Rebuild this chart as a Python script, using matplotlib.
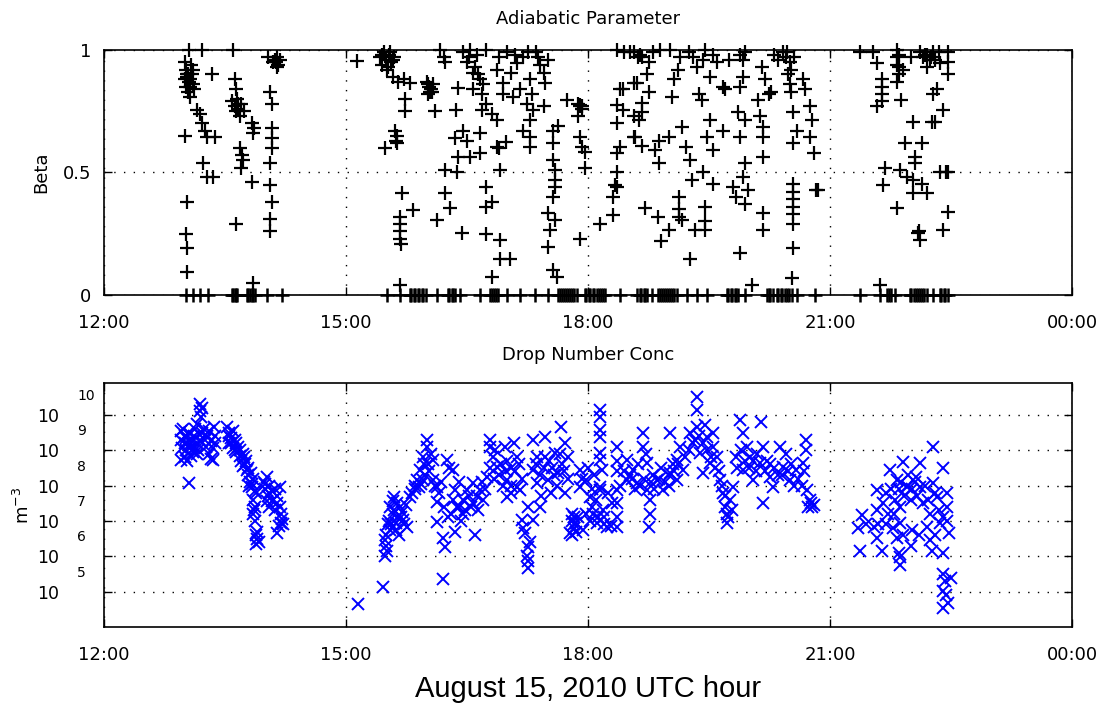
import numpy as np
import matplotlib.pyplot as plt

# ---- data ----
# adiabatic parameter (beta) per flight leg: (UTC hour, beta)
beta_leg1 = [
    (13.00, 0.95), (13.02, 0.92), (13.03, 0.89), (13.05, 0.87), (13.01, 0.85), (13.04, 0.83),
    (13.06, 0.81), (13.03, 0.90), (13.08, 0.94), (13.06, 0.88), (13.10, 0.86), (13.05, 1.00),
    (13.21, 1.00), (13.10, 0.92), (13.12, 0.84), (13.34, 0.90), (13.15, 0.755), (13.19, 0.74),
    (13.22, 0.70), (13.25, 0.67), (13.00, 0.65), (13.28, 0.645), (13.38, 0.645), (13.23, 0.54),
    (13.28, 0.48), (13.35, 0.48), (13.03, 0.38), (13.02, 0.25), (13.03, 0.19), (13.03, 0.095),
    (13.60, 1.00), (13.62, 0.88), (13.64, 0.84), (13.65, 0.80), (13.59, 0.79), (13.62, 0.77),
    (13.66, 0.76), (13.70, 0.78), (13.74, 0.75), (13.68, 0.73), (13.83, 0.70), (13.86, 0.68),
    (13.85, 0.66), (13.69, 0.60), (13.71, 0.57), (13.72, 0.55), (13.70, 0.52), (13.84, 0.46),
    (13.63, 0.29), (13.85, 0.05), (14.03, 0.97), (14.10, 0.95), (14.16, 0.94), (14.18, 0.96),
    (14.14, 0.93), (14.12, 0.96), (14.06, 0.83), (14.08, 0.78), (14.08, 0.68), (14.08, 0.64),
    (14.08, 0.60), (14.06, 0.54), (14.06, 0.45), (14.08, 0.38), (14.06, 0.31), (14.06, 0.26),
    (13.04, 0.90), (13.07, 0.85), (13.09, 0.90), (13.00, 0.88), (13.66, 0.78), (13.64, 0.75),
    (14.15, 0.97), (14.13, 0.95),
]
beta_leg2 = [
    (15.14, 0.955), (15.42, 0.97), (15.47, 0.99), (15.50, 0.96), (15.53, 0.98), (15.56, 0.95),
    (15.60, 0.97), (15.52, 0.93), (15.45, 0.94), (15.51, 0.92), (15.58, 0.89), (15.65, 0.87),
    (15.72, 0.88), (15.79, 0.865), (15.73, 0.80), (15.73, 0.75), (15.61, 0.67), (15.63, 0.65),
    (15.62, 0.63), (15.63, 0.62), (15.48, 0.60), (16.00, 0.87), (16.03, 0.85), (16.06, 0.83),
    (16.02, 0.82), (16.08, 0.86), (16.05, 0.84), (16.10, 0.75), (16.17, 1.00), (16.21, 0.97),
    (16.23, 0.95), (16.39, 0.845), (16.36, 0.755), (16.54, 1.00), (16.73, 1.00), (16.50, 0.95),
    (16.57, 0.905), (16.66, 0.88), (16.57, 0.84), (16.69, 0.82), (16.74, 0.78), (16.69, 0.755),
    (16.87, 0.92), (16.95, 0.865), (17.04, 0.905), (17.12, 0.945), (17.20, 0.97), (16.95, 0.82),
    (17.07, 0.81), (17.16, 0.84), (17.28, 0.88), (17.31, 0.82), (17.32, 0.755), (17.24, 0.78),
    (17.45, 0.905), (17.50, 0.96), (17.47, 0.865), (17.45, 0.77), (17.28, 0.715), (16.87, 0.715),
    (16.81, 0.74), (16.45, 0.99), (16.62, 0.98), (16.90, 0.97), (17.00, 0.99), (17.10, 0.98),
    (17.25, 0.99), (16.45, 0.67), (16.35, 0.64), (16.50, 0.63), (16.66, 0.66), (16.39, 0.565),
    (16.54, 0.565), (16.66, 0.58), (16.87, 0.605), (16.98, 0.625), (16.90, 0.60), (16.23, 0.51),
    (16.37, 0.50), (16.91, 0.51), (16.73, 0.44), (16.81, 0.38), (16.73, 0.36), (16.23, 0.415),
    (16.29, 0.355), (16.13, 0.305), (15.69, 0.415), (15.83, 0.345), (15.67, 0.32), (15.67, 0.29),
    (15.67, 0.26), (15.67, 0.23), (15.68, 0.21), (16.44, 0.255), (16.73, 0.25), (16.91, 0.225),
    (16.91, 0.145), (17.03, 0.145), (16.81, 0.075), (17.20, 0.67), (17.28, 0.645), (17.28, 0.605),
    (17.57, 0.67), (17.63, 0.69), (17.57, 0.62), (17.57, 0.55), (17.59, 0.51), (17.59, 0.47),
    (17.59, 0.44), (17.57, 0.40), (17.50, 0.335), (17.59, 0.305), (17.53, 0.265), (17.50, 0.195),
    (17.57, 0.10), (17.62, 0.075), (17.74, 0.795), (17.90, 0.775), (17.88, 0.78), (17.92, 0.77),
    (17.87, 0.73), (17.90, 0.645), (17.93, 0.605), (17.96, 0.585), (17.96, 0.52), (17.90, 0.23),
    (15.67, 0.04), (15.45, 0.98), (15.55, 0.99), (15.58, 0.96), (16.02, 0.86), (16.04, 0.83),
    (16.52, 0.97), (16.60, 0.93), (16.64, 0.90), (16.70, 0.86), (17.35, 0.99), (17.38, 0.97),
    (17.40, 0.94), (17.90, 0.77), (17.92, 0.76),
]
beta_leg3 = [
    (18.15, 0.29), (18.31, 0.325), (18.36, 1.00), (18.52, 0.99), (18.40, 0.84), (18.57, 0.865),
    (18.36, 0.775), (18.43, 0.755), (18.36, 0.70), (18.57, 0.73), (18.57, 0.645), (18.36, 0.58),
    (18.40, 0.605), (18.36, 0.50), (18.36, 0.44), (18.31, 0.40), (18.57, 0.99), (18.64, 0.98),
    (18.67, 0.97), (18.89, 1.00), (19.02, 1.00), (19.14, 0.97), (19.45, 1.00), (19.89, 0.98),
    (19.95, 0.99), (19.92, 0.96), (20.47, 0.99), (20.50, 0.95), (20.52, 0.92), (20.48, 0.90),
    (20.55, 0.97), (19.11, 0.92), (19.06, 0.88), (19.04, 0.81), (19.35, 0.93), (19.38, 0.82),
    (19.51, 0.89), (19.67, 0.85), (19.70, 0.84), (19.41, 0.795), (19.88, 0.85), (19.92, 0.89),
    (20.16, 0.93), (20.19, 0.88), (20.24, 0.82), (20.27, 0.83), (20.11, 0.795), (20.13, 0.73),
    (18.73, 0.90), (18.61, 0.865), (18.76, 0.83), (18.67, 0.785), (18.43, 0.84), (18.67, 0.745),
    (18.63, 0.715), (18.58, 0.645), (18.67, 0.61), (18.83, 0.59), (18.88, 0.54), (19.00, 0.645),
    (18.88, 0.63), (19.17, 0.685), (19.22, 0.605), (19.26, 0.55), (19.29, 0.47), (19.48, 0.645),
    (19.51, 0.715), (19.55, 0.59), (19.67, 0.67), (19.55, 0.455), (19.42, 0.50), (19.86, 0.745),
    (19.95, 0.715), (19.88, 0.645), (20.17, 0.685), (20.17, 0.645), (20.17, 0.565), (19.95, 0.54),
    (19.92, 0.48), (19.80, 0.44), (19.98, 0.43), (19.83, 0.40), (19.95, 0.37), (20.54, 0.745),
    (20.75, 0.77), (20.78, 0.715), (20.59, 0.67), (20.75, 0.645), (20.54, 0.62), (20.80, 0.58),
    (20.69, 0.84), (20.67, 0.88), (20.54, 0.455), (20.54, 0.42), (20.54, 0.39), (20.54, 0.36),
    (20.54, 0.33), (20.54, 0.29), (20.82, 0.43), (20.85, 0.43), (20.54, 0.19), (20.53, 0.07),
    (18.71, 0.355), (18.87, 0.32), (19.00, 0.265), (18.90, 0.22), (19.13, 0.40), (19.13, 0.35),
    (19.13, 0.32), (19.16, 0.305), (19.32, 0.265), (19.45, 0.36), (19.45, 0.30), (19.45, 0.265),
    (19.26, 0.145), (19.88, 0.17), (20.17, 0.335), (20.17, 0.265), (20.03, 0.04), (18.33, 0.45),
    (18.45, 0.99), (18.62, 0.97), (18.75, 0.95), (18.80, 0.99), (19.25, 0.99), (19.30, 0.97),
    (19.42, 0.96), (19.55, 0.98), (19.60, 0.95), (19.75, 0.96), (20.30, 0.98), (20.35, 0.96),
    (20.42, 0.99), (20.45, 0.97), (20.50, 0.86), (20.52, 0.83),
]
beta_leg4 = [
    (21.37, 0.99), (21.53, 0.99), (21.58, 0.945), (21.64, 0.88), (21.64, 0.85), (21.64, 0.82),
    (21.64, 0.79), (21.58, 0.77), (21.83, 1.00), (21.83, 0.97), (21.83, 0.94), (21.85, 0.90),
    (21.83, 0.87), (21.90, 0.92), (21.88, 0.795), (22.12, 0.99), (22.15, 0.97), (22.18, 0.98),
    (22.24, 0.96), (22.28, 0.99), (22.36, 0.945), (22.46, 0.99), (22.46, 0.95), (22.46, 0.90),
    (22.33, 0.84), (22.28, 0.82), (22.40, 0.755), (22.03, 0.705), (22.27, 0.705), (22.30, 0.705),
    (21.93, 0.62), (22.14, 0.62), (22.05, 0.565), (22.05, 0.54), (21.68, 0.52), (21.87, 0.51),
    (21.95, 0.48), (22.03, 0.47), (21.66, 0.45), (22.14, 0.455), (22.03, 0.415), (22.20, 0.415),
    (22.36, 0.50), (22.46, 0.50), (22.44, 0.50), (21.83, 0.355), (22.46, 0.34), (22.40, 0.265),
    (22.09, 0.255), (22.12, 0.225), (22.10, 0.26), (22.00, 0.97), (22.20, 0.93), (21.62, 0.04),
    (21.85, 0.98), (21.86, 0.93), (22.20, 0.98), (22.25, 0.97), (22.30, 0.96), (22.35, 0.99),
]
# times where beta was 0
beta_zero_hours = [
    13.02, 13.10, 13.19, 13.29, 13.59, 13.60, 13.62, 13.63, 13.65, 13.77, 13.79, 13.81, 13.83,
    13.85, 13.87, 14.02, 14.21,
    15.51, 15.67, 15.79, 15.81, 15.84, 15.86, 15.89, 15.91, 15.94, 15.96, 15.99, 16.13, 16.26,
    16.28, 16.31, 16.33, 16.35, 16.41, 16.66, 16.79, 16.81, 16.83, 16.86, 16.88, 17.00, 17.16,
    17.34, 17.50, 17.63, 17.65, 17.68, 17.70, 17.73, 17.75, 17.78, 17.80, 17.83, 17.86, 17.96,
    17.98, 18.01, 18.03, 18.06, 18.08, 18.11, 18.13, 18.16, 18.18, 18.21, 18.40, 18.61, 18.64,
    18.66, 18.69, 18.71, 18.73, 18.79, 18.87, 18.89, 18.92, 18.94, 18.97, 18.99, 19.02, 19.04,
    19.07, 19.10, 19.23, 19.35, 19.47, 19.72, 19.74, 19.77, 19.79, 19.82, 19.84, 19.86, 19.95,
    20.22, 20.24, 20.26, 20.29, 20.34, 20.36, 20.39, 20.41, 20.44, 20.47, 20.49, 20.53, 20.59,
    20.81, 21.37, 21.62, 21.71, 21.73, 21.76, 21.81, 21.99, 22.01, 22.04, 22.06, 22.09, 22.11,
    22.14, 22.17, 22.20, 22.28, 22.36, 22.38, 22.41, 22.43, 22.46,
]

# drop number concentration per leg: (UTC hour, log10 of m^-3)
conc_leg1 = [
    (12.98, 9.6), (13.00, 9.4), (13.00, 9.2), (13.02, 9.0), (13.00, 8.8), (13.03, 8.7),
    (13.05, 9.5), (13.07, 9.3), (13.08, 9.1), (13.10, 8.95), (13.12, 9.4), (13.13, 9.6),
    (13.15, 9.2), (13.17, 9.0), (13.15, 9.75), (13.19, 10.3), (13.19, 10.1), (13.20, 9.95),
    (13.22, 10.2), (13.22, 9.5), (13.25, 9.3), (13.27, 9.1), (13.30, 8.9), (13.32, 8.75),
    (13.35, 8.72), (13.35, 9.05), (13.37, 9.4), (13.36, 9.66), (13.38, 9.2), (13.05, 8.07),
    (12.95, 9.55), (12.95, 9.3), (12.97, 9.05), (12.96, 8.72),
    (13.05, 9.15), (13.10, 9.25), (13.12, 9.05), (13.08, 8.85), (13.15, 8.9), (13.18, 9.45),
    (13.20, 9.25), (13.24, 9.6), (13.28, 9.4), (13.30, 9.55), (13.33, 9.25), (13.02, 9.35),
    (13.52, 9.66), (13.55, 9.5), (13.58, 9.35), (13.60, 9.55), (13.62, 9.3), (13.55, 9.2),
    (13.60, 9.05), (13.63, 8.95), (13.66, 9.1), (13.68, 8.85), (13.70, 8.7), (13.72, 8.9),
    (13.75, 8.6), (13.74, 8.8), (13.77, 8.45), (13.79, 8.3), (13.81, 8.1), (13.83, 7.95),
    (13.85, 8.2), (13.87, 7.85), (13.80, 8.0), (13.85, 7.6), (13.87, 7.4), (13.85, 7.2),
    (13.87, 7.0), (13.90, 6.7), (13.90, 6.5), (13.88, 6.35), (13.92, 6.4), (13.62, 9.0),
    (13.72, 8.55), (13.55, 9.4), (13.58, 9.2), (13.64, 9.2), (13.68, 9.0), (13.76, 8.7),
    (13.79, 8.5), (13.82, 8.35), (13.84, 8.05), (13.88, 7.8), (13.86, 7.3), (13.89, 6.6),
    (13.98, 8.1), (14.00, 7.9), (14.02, 8.24), (14.05, 8.0), (14.03, 7.7), (14.08, 7.85),
    (14.10, 7.6), (14.05, 7.4), (14.12, 7.3), (14.15, 7.7), (14.18, 7.95), (14.15, 7.5),
    (14.20, 7.2), (14.21, 7.05), (14.19, 6.95), (14.15, 6.65), (14.17, 6.85), (14.00, 8.05),
    (14.05, 7.8), (14.08, 7.55), (14.12, 7.9), (14.02, 7.55), (14.18, 7.4), (14.22, 6.9),
]
conc_leg2 = [
    (15.15, 4.66), (15.46, 5.14), (16.20, 5.37),
    (15.51, 6.16), (15.48, 6.45), (15.48, 6.0), (15.55, 6.73), (15.58, 7.2), (15.67, 7.39),
    (15.71, 7.02), (15.75, 6.82), (15.60, 7.67), (15.79, 7.67), (15.52, 6.9), (15.62, 6.95),
    (15.65, 7.1), (15.70, 7.25), (15.55, 7.4), (15.66, 6.6), (15.50, 6.3), (15.58, 7.55),
    (15.50, 6.6), (15.53, 7.0), (15.56, 6.9), (15.60, 7.3), (15.63, 7.5), (15.68, 7.1),
    (15.72, 6.9), (15.62, 6.75), (15.74, 7.45), (15.82, 7.8), (15.86, 7.9), (15.93, 8.05),
    (15.88, 8.15), (15.95, 8.15), (16.00, 9.1), (16.00, 9.29), (15.95, 8.8), (16.08, 8.72),
    (16.08, 8.15), (16.13, 7.95), (16.13, 7.53), (16.13, 6.96), (16.20, 6.53), (16.23, 6.25),
    (15.90, 7.95), (15.85, 8.0), (15.98, 8.3), (16.02, 8.6), (15.92, 8.45), (16.05, 8.9),
    (15.97, 8.6), (16.03, 8.4), (16.10, 8.0), (16.15, 7.8), (16.18, 8.1), (16.22, 7.4),
    (16.25, 8.72), (16.33, 8.44), (16.35, 7.87), (16.38, 7.39), (16.45, 7.2), (16.35, 6.68),
    (16.60, 6.59), (16.50, 7.87), (16.57, 8.07), (16.66, 7.87), (16.70, 7.58), (16.28, 8.5),
    (16.40, 8.1), (16.45, 7.6), (16.30, 7.2), (16.55, 7.4), (16.62, 7.7), (16.42, 7.0),
    (16.26, 7.1), (16.32, 7.6), (16.40, 7.4), (16.48, 7.3), (16.52, 7.7), (16.58, 7.5),
    (16.64, 7.3), (16.68, 8.1), (16.72, 7.9),
    (16.75, 8.24), (16.79, 9.1), (16.79, 9.29), (16.87, 8.52), (16.82, 8.8), (16.97, 9.1),
    (17.00, 8.15), (17.00, 7.67), (17.08, 9.2), (17.12, 8.8), (17.12, 7.95), (17.16, 7.87),
    (16.90, 8.3), (16.95, 8.0), (17.05, 8.5), (16.85, 9.0), (17.00, 8.7), (17.18, 8.2),
    (16.78, 8.5), (16.84, 8.2), (16.92, 8.6), (16.98, 8.4), (17.05, 8.0), (17.10, 8.4),
    (17.15, 8.6), (17.04, 7.8),
    (17.18, 7.02), (17.22, 6.65), (17.26, 6.25), (17.26, 5.88), (17.26, 5.68), (17.32, 7.02),
    (17.26, 7.39), (17.20, 6.8), (17.28, 6.4), (17.24, 6.0),
    (17.32, 9.29), (17.32, 8.44), (17.37, 8.8), (17.37, 8.07), (17.40, 7.39), (17.47, 9.38),
    (17.47, 8.8), (17.50, 8.15), (17.54, 7.78), (17.59, 8.92), (17.66, 9.66), (17.71, 9.2),
    (17.63, 8.35), (17.71, 7.78), (17.75, 8.8), (17.42, 7.7), (17.55, 8.5), (17.68, 8.6),
    (17.35, 8.6), (17.40, 8.3), (17.45, 8.5), (17.52, 8.7), (17.58, 8.3), (17.62, 8.0),
    (17.65, 8.9), (17.70, 8.4), (17.75, 8.2),
    (17.80, 7.2), (17.80, 7.0), (17.82, 6.8), (17.80, 6.6), (17.85, 6.7), (17.85, 6.95),
    (17.78, 6.65), (17.88, 7.1), (17.90, 8.44), (17.90, 7.95), (17.92, 8.2), (17.82, 6.9),
    (17.83, 7.1),
]
conc_leg3 = [
    (17.98, 7.2), (18.11, 6.93), (18.24, 6.82), (18.36, 6.82), (17.98, 8.15), (18.15, 7.95),
    (18.03, 7.67), (17.94, 6.73), (18.05, 7.4), (18.10, 7.6), (18.00, 8.5), (18.08, 8.3),
    (18.20, 7.1), (18.15, 10.14), (18.15, 9.95), (18.15, 9.57), (18.15, 9.38), (18.15, 8.92),
    (18.15, 8.72), (18.17, 8.44), (18.15, 7.87), (18.19, 7.3), (18.36, 9.1), (18.36, 8.7),
    (18.36, 8.4), (18.36, 7.87), (18.36, 7.5), (18.36, 7.1), (18.48, 8.72), (18.48, 8.15),
    (18.56, 8.44), (18.61, 8.07), (18.68, 9.48), (18.68, 9.1), (18.73, 8.64), (18.73, 7.87),
    (18.77, 7.58), (18.77, 7.2), (18.75, 6.82), (18.85, 8.15), (18.93, 7.87), (19.02, 9.48),
    (19.02, 8.35), (19.10, 8.72), (19.10, 8.15), (19.14, 9.1), (19.18, 8.44), (18.55, 8.2),
    (18.65, 8.0), (18.80, 8.3), (18.90, 8.5), (19.00, 8.0), (19.05, 8.6),
    (18.02, 7.0), (18.06, 7.2), (18.12, 7.1), (18.20, 6.9), (18.28, 6.85), (18.05, 7.9),
    (18.25, 7.8), (18.30, 7.5), (18.40, 8.0), (18.45, 8.4), (18.52, 8.3), (18.58, 7.9),
    (18.62, 8.6), (18.70, 8.2), (18.72, 8.9), (18.78, 8.1), (18.82, 7.9), (18.88, 8.2),
    (18.95, 8.1), (19.00, 8.3), (19.07, 8.4), (19.12, 8.6), (19.20, 8.8), (19.25, 9.0),
    (19.26, 9.48), (19.35, 9.66), (19.35, 10.51), (19.35, 10.14), (19.47, 9.38), (19.39, 8.92),
    (19.43, 8.35), (19.55, 9.1), (19.55, 9.48), (19.51, 8.64), (19.64, 8.15), (19.67, 7.78),
    (19.72, 7.2), (19.72, 6.93), (19.80, 7.95), (19.76, 7.58), (19.30, 9.2), (19.45, 9.7),
    (19.60, 8.8), (19.70, 7.4), (19.32, 9.3), (19.38, 9.4), (19.42, 9.2), (19.48, 9.0),
    (19.52, 8.8), (19.58, 8.5), (19.62, 8.4), (19.66, 8.0), (19.70, 7.7), (19.74, 7.1),
    (19.78, 7.3),
    (19.88, 9.86), (19.92, 9.48), (19.97, 9.1), (19.84, 8.8), (19.92, 8.44), (20.04, 8.15),
    (20.01, 8.8), (20.15, 9.8), (20.17, 9.1), (20.13, 8.64), (20.17, 7.5), (20.26, 8.24),
    (20.29, 7.95), (20.38, 9.1), (20.42, 8.52), (20.50, 8.15), (20.58, 8.44), (20.66, 8.64),
    (20.70, 9.29), (20.70, 9.0), (20.71, 7.87), (20.77, 7.5), (20.73, 7.39), (20.25, 8.6),
    (20.35, 8.3), (20.45, 8.9), (20.08, 8.4), (20.55, 8.0), (20.80, 7.45), (19.85, 8.5),
    (19.90, 9.0), (19.95, 8.7), (20.00, 8.5), (20.05, 8.7), (20.10, 8.9), (20.20, 8.4),
    (20.22, 8.7), (20.30, 8.5), (20.40, 8.3), (20.48, 8.4), (20.52, 8.6), (20.60, 8.2),
    (20.65, 8.0), (20.68, 8.4), (20.75, 7.6), (20.78, 7.4),
]
conc_leg4 = [
    (22.28, 9.1), (21.90, 8.66), (22.12, 8.64), (22.40, 8.49), (21.74, 8.44), (22.07, 8.24),
    (21.83, 8.15), (21.58, 7.87), (21.70, 7.78), (21.95, 7.95), (22.12, 7.95), (22.28, 8.07),
    (22.33, 7.67), (22.45, 7.78), (21.66, 7.5), (21.87, 7.39), (22.24, 7.2), (22.45, 7.39),
    (21.58, 7.3), (21.40, 7.16), (21.79, 7.2), (21.35, 6.79), (21.54, 6.82), (21.58, 6.53),
    (21.87, 6.93), (21.83, 6.53), (22.02, 6.73), (22.20, 6.82), (22.36, 6.93), (22.48, 6.65),
    (22.24, 6.45), (21.37, 6.16), (21.64, 6.16), (21.87, 5.97), (21.87, 5.74), (22.26, 6.16),
    (22.40, 6.08), (22.40, 5.51), (22.50, 5.4), (22.40, 5.03), (22.46, 4.69), (22.40, 4.55),
    (21.75, 7.9), (21.95, 8.0), (22.00, 7.6), (22.15, 7.5), (21.92, 7.7), (22.05, 8.1),
    (21.80, 7.6), (22.30, 7.8), (21.70, 6.9), (22.10, 6.6), (22.45, 7.0),
    (21.85, 7.9), (21.88, 8.1), (21.97, 8.3), (22.02, 7.9), (22.08, 7.7), (22.18, 8.0),
    (22.22, 7.6), (22.35, 7.3), (22.40, 7.1), (21.72, 7.2), (21.78, 6.8), (21.90, 6.6),
    (22.00, 6.3), (22.30, 6.6), (21.45, 6.9), (21.60, 6.9), (21.86, 6.1), (22.42, 5.3),
    (22.44, 4.9),
]

hour_ticks = [12, 15, 18, 21, 24]
hour_labels = ['12:00', '15:00', '18:00', '21:00', '00:00']
decades = [5, 6, 7, 8, 9, 10]

plt.rcParams['font.family'] = 'DejaVu Sans'
plt.rcParams['mathtext.default'] = 'regular'

fig = plt.figure(figsize=(11.02, 7.05), dpi=100)
ax1 = fig.add_axes([0.0944, 0.5816, 0.8784, 0.3475])
ax2 = fig.add_axes([0.0944, 0.1106, 0.8784, 0.3461])

dots = (0, (1, 6))

# --- top: beta ---
for leg in [beta_leg1, beta_leg2, beta_leg3, beta_leg4]:
    h, b = zip(*leg)
    ax1.plot(h, b, '+', color='k', ms=10, mew=1.6, clip_on=False)
ax1.plot(beta_zero_hours, [0.0] * len(beta_zero_hours), '+', color='k', ms=10, mew=1.8,
         clip_on=False)

ax1.set_xlim(12, 24)
ax1.set_ylim(0, 1)
ax1.set_xticks(hour_ticks)
ax1.set_xticklabels(hour_labels)
ax1.set_yticks([0, 0.5, 1])
ax1.set_yticklabels(['0', '0.5', '1'])
ax1.grid(True, linestyle=dots, color='k', linewidth=1)
ax1.set_ylabel('Beta', fontsize=13)
ax1.yaxis.set_label_coords(-0.056, 0.5)
ax1.set_title('Adiabatic Parameter', fontsize=13, y=1.127, va='center', pad=0)

# --- bottom: drop number concentration ---
for leg in [conc_leg1, conc_leg2, conc_leg3, conc_leg4]:
    h, c = zip(*leg)
    ax2.plot(h, 10.0 ** np.array(c), 'x', color='#0000ff', ms=8, mew=1.4)

ax2.set_yscale('log')
ax2.set_xlim(12, 24)
ax2.set_ylim(1e4, 10 ** 10.9)
ax2.set_xticks(hour_ticks)
ax2.set_xticklabels(hour_labels)
ax2.set_yticks([10.0 ** d for d in decades])
ax2.set_yticklabels(['10'] * len(decades))
ax2.minorticks_off()
for d in decades:
    # exponents sit up and to the right of each "10"
    ax2.annotate(str(d), xy=(0, 10.0 ** d), xycoords=('axes fraction', 'data'),
                 xytext=(-27, 19), textcoords='offset pixels', fontsize=10,
                 ha='left', va='center', annotation_clip=False)
ax2.grid(True, linestyle=dots, color='k', linewidth=1)
ax2.set_ylabel('m$^{-3}$', fontsize=13)
ax2.yaxis.set_label_coords(-0.073, 0.5)
ax2.set_title('Drop Number Conc', fontsize=13, y=1.115, va='center', pad=0)
ax2.set_xlabel('August 15, 2010 UTC hour', fontsize=21, family='Liberation Sans')
ax2.xaxis.set_label_coords(0.5, -0.198)

for ax in [ax1, ax2]:
    ax.tick_params(direction='in', length=6, width=1, top=True, right=True, labelsize=13)
    ax.tick_params(axis='x', pad=14)
    for s in ax.spines.values():
        s.set_linewidth(1.2)
ax1.tick_params(axis='y', pad=9)
ax2.tick_params(axis='y', pad=32, labelsize=12.5)

plt.savefig('out.png', dpi=100)
